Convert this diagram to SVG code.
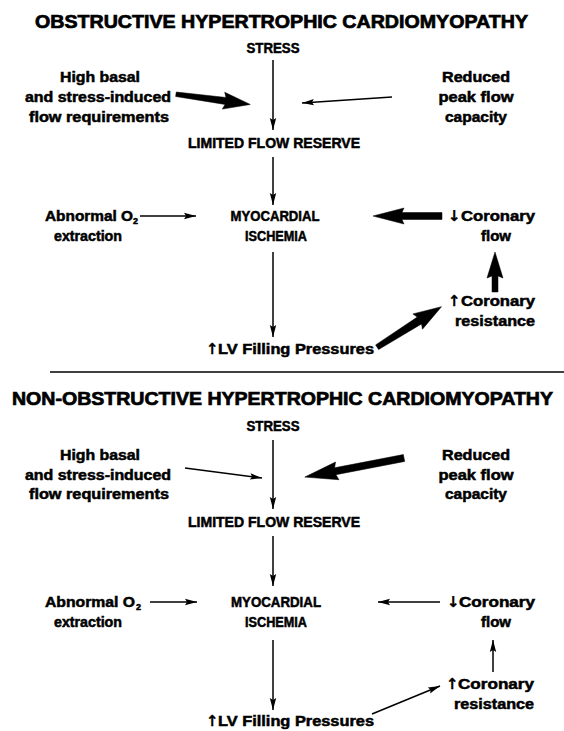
<svg xmlns="http://www.w3.org/2000/svg" width="564" height="731" viewBox="0 0 564 731">
<defs>
<style>
text{font-family:"Liberation Sans",Arial,sans-serif;font-weight:bold;fill:#000;stroke:#000;stroke-width:0.5;}
.t{font-size:18px;stroke-width:0.7;}
.b{font-size:14px;}
.c{text-anchor:middle;}
.ar{font-family:"DejaVu Sans",sans-serif;font-size:15px;stroke-width:0.3;}
.ln{stroke:#000;stroke-width:1.5;fill:none;marker-end:url(#ah);}
.thick{fill:#000;stroke:#000;stroke-width:0.5;stroke-linejoin:round;}
</style>
<marker id="ah" markerUnits="userSpaceOnUse" markerWidth="13" markerHeight="8" refX="12" refY="4" orient="auto">
<path d="M0,0.8 L12,4 L0,7.2 L2,4 z" fill="#000"/>
</marker>
</defs>
<rect width="564" height="731" fill="#fff"/>

<!-- ===== Top section ===== -->
<g id="title-obstructive"><text class="t" x="35" y="28" textLength="493" lengthAdjust="spacingAndGlyphs">OBSTRUCTIVE HYPERTROPHIC CARDIOMYOPATHY</text></g>
<g id="stress-1"><text class="b c" x="273" y="53" textLength="53" lengthAdjust="spacingAndGlyphs">STRESS</text></g>
<g id="flowreq-1">
<text class="b c" x="100" y="82" textLength="80" lengthAdjust="spacingAndGlyphs">High basal</text>
<text class="b c" x="98" y="102" textLength="146" lengthAdjust="spacingAndGlyphs">and stress-induced</text>
<text class="b c" x="99" y="122" textLength="140" lengthAdjust="spacingAndGlyphs">flow requirements</text>
</g>
<g id="peakflow-1">
<text class="b c" x="476" y="82" textLength="68" lengthAdjust="spacingAndGlyphs">Reduced</text>
<text class="b c" x="476" y="102" textLength="75" lengthAdjust="spacingAndGlyphs">peak flow</text>
<text class="b c" x="476" y="122" textLength="62" lengthAdjust="spacingAndGlyphs">capacity</text>
</g>
<g id="lfr-1"><text class="b c" x="274" y="148" textLength="172" lengthAdjust="spacingAndGlyphs">LIMITED FLOW RESERVE</text></g>
<g id="o2-1">
<text class="b" x="45" y="221" textLength="88" lengthAdjust="spacingAndGlyphs">Abnormal O</text><text class="b" x="133" y="224" style="font-size:9px">2</text>
<text class="b c" x="88" y="241" textLength="68" lengthAdjust="spacingAndGlyphs">extraction</text>
</g>
<g id="ischemia-1">
<text class="b c" x="275" y="221" textLength="89" lengthAdjust="spacingAndGlyphs">MYOCARDIAL</text>
<text class="b c" x="276" y="241" textLength="62" lengthAdjust="spacingAndGlyphs">ISCHEMIA</text>
</g>
<g id="corflow-1">
<text class="ar" x="448" y="221">↓</text>
<text class="b" x="461" y="221" textLength="74" lengthAdjust="spacingAndGlyphs">Coronary</text>
<text class="b c" x="496" y="241" textLength="30" lengthAdjust="spacingAndGlyphs">flow</text>
</g>
<g id="corres-1">
<text class="ar" x="448" y="306">↑</text>
<text class="b" x="461" y="306" textLength="74" lengthAdjust="spacingAndGlyphs">Coronary</text>
<text class="b c" x="495" y="326" textLength="80" lengthAdjust="spacingAndGlyphs">resistance</text>
</g>
<g id="lvfp-1">
<text class="ar" x="206" y="354">↑</text>
<text class="b" x="218" y="354" textLength="156" lengthAdjust="spacingAndGlyphs">LV Filling Pressures</text>
</g>

<g id="connectors-1">
<line class="ln" x1="273" y1="60" x2="273" y2="130"/>
<line class="ln" x1="392" y1="97" x2="302" y2="103"/>
<line class="ln" x1="273" y1="157" x2="273" y2="205"/>
<line class="ln" x1="140" y1="216" x2="196" y2="216"/>
<line class="ln" x1="273" y1="252" x2="273" y2="337"/>
<polygon class="thick" transform="translate(176,94) rotate(8)" points="0,-2 50,-3.5 48,-8.5 75,0 48,8.5 50,3.5 0,2.5"/>
<polygon class="thick" transform="translate(442,216) rotate(180)" points="0,-3.5 40,-3.5 38,-8 69,0 38,8 40,3.5 0,3.5"/>
<polygon class="thick" transform="translate(495,292) rotate(-90)" points="0,-3 16,-3 14,-8 40,0 14,8 16,3 0,3"/>
<polygon class="thick" transform="translate(377,347) rotate(-32)" points="0,-2.5 50,-4 48,-9 76,0 48,9 50,4 0,3"/>
</g>

<!-- Divider -->
<line x1="50" y1="372" x2="564" y2="372" stroke="#000" stroke-width="1.5"/>

<!-- ===== Bottom section ===== -->
<g id="title-nonobstructive"><text class="t" x="12" y="405" textLength="541" lengthAdjust="spacingAndGlyphs">NON-OBSTRUCTIVE HYPERTROPHIC CARDIOMYOPATHY</text></g>
<g id="stress-2"><text class="b c" x="273" y="431" textLength="53" lengthAdjust="spacingAndGlyphs">STRESS</text></g>
<g id="flowreq-2">
<text class="b c" x="100" y="460" textLength="80" lengthAdjust="spacingAndGlyphs">High basal</text>
<text class="b c" x="98" y="480" textLength="146" lengthAdjust="spacingAndGlyphs">and stress-induced</text>
<text class="b c" x="99" y="499" textLength="140" lengthAdjust="spacingAndGlyphs">flow requirements</text>
</g>
<g id="peakflow-2">
<text class="b c" x="476" y="460" textLength="68" lengthAdjust="spacingAndGlyphs">Reduced</text>
<text class="b c" x="476" y="480" textLength="75" lengthAdjust="spacingAndGlyphs">peak flow</text>
<text class="b c" x="476" y="499" textLength="62" lengthAdjust="spacingAndGlyphs">capacity</text>
</g>
<g id="lfr-2"><text class="b c" x="274" y="527" textLength="172" lengthAdjust="spacingAndGlyphs">LIMITED FLOW RESERVE</text></g>
<g id="o2-2">
<text class="b" x="45" y="607" textLength="90" lengthAdjust="spacingAndGlyphs">Abnormal O</text><text class="b" x="136" y="610" style="font-size:9px">2</text>
<text class="b c" x="88" y="627" textLength="68" lengthAdjust="spacingAndGlyphs">extraction</text>
</g>
<g id="ischemia-2">
<text class="b c" x="276" y="607" textLength="90" lengthAdjust="spacingAndGlyphs">MYOCARDIAL</text>
<text class="b c" x="276" y="627" textLength="62" lengthAdjust="spacingAndGlyphs">ISCHEMIA</text>
</g>
<g id="corflow-2">
<text class="ar" x="447" y="607">↓</text>
<text class="b" x="459" y="607" textLength="76" lengthAdjust="spacingAndGlyphs">Coronary</text>
<text class="b c" x="496" y="627" textLength="30" lengthAdjust="spacingAndGlyphs">flow</text>
</g>
<g id="corres-2">
<text class="ar" x="446" y="689">↑</text>
<text class="b" x="458" y="689" textLength="76" lengthAdjust="spacingAndGlyphs">Coronary</text>
<text class="b c" x="494" y="709" textLength="80" lengthAdjust="spacingAndGlyphs">resistance</text>
</g>
<g id="lvfp-2">
<text class="ar" x="206" y="726">↑</text>
<text class="b" x="218" y="726" textLength="156" lengthAdjust="spacingAndGlyphs">LV Filling Pressures</text>
</g>

<g id="connectors-2">
<line class="ln" x1="273" y1="440" x2="273" y2="509"/>
<line class="ln" x1="185" y1="468" x2="262" y2="478"/>
<line class="ln" x1="273" y1="536" x2="273" y2="586"/>
<line class="ln" x1="150" y1="602" x2="197" y2="602"/>
<line class="ln" x1="440" y1="602" x2="378" y2="602"/>
<line class="ln" x1="493" y1="672" x2="493" y2="640"/>
<line class="ln" x1="273" y1="640" x2="273" y2="710"/>
<line class="ln" x1="372" y1="714" x2="440" y2="686"/>
<polygon class="thick" transform="translate(404,458) rotate(169.1)" points="0,-3.5 70,-3.5 68,-9 101,0 68,9 70,3.5 0,3.5"/>
</g>
</svg>
